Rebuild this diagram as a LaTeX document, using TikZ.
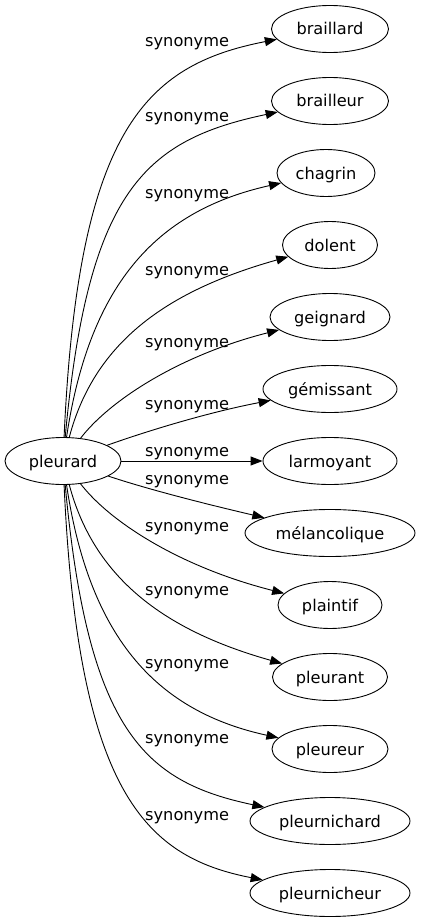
\documentclass[tikz,border=0pt]{standalone}
\usepackage{fontspec}
\setmainfont{DejaVu Sans}
\usetikzlibrary{shapes.geometric,arrows.meta}

\begin{document}
\begin{tikzpicture}[
        x=1pt, y=-1pt,
        word/.style = {draw, ellipse, line width=0.9pt, inner sep=0pt, minimum height=47pt, text height=15pt, text depth=3pt, font=\fontsize{16.2}{19}\selectfont},
        lbl/.style = {anchor=base west, inner sep=0pt, font=\fontsize{16.2}{19}\selectfont},
        arrow/.style = {-{Triangle[length=12pt,width=9pt]}, line width=0.9pt}
    ]
    \useasboundingbox (0,0) rectangle (421,923);

    % Headword on the left
    \node[word, minimum width=116pt] (pleurard) at (63,461) {pleurard};

    % Synonyms in one column
    \node[word, minimum width=117pt] (braillard) at (330,29) {braillard};
    \node[word, minimum width=117pt] (brailleur) at (330,101) {brailleur};
    \node[word, minimum width=98pt] (chagrin) at (326,173) {chagrin};
    \node[word, minimum width=95pt] (dolent) at (330,245) {dolent};
    \node[word, minimum width=120pt] (geignard) at (330,317) {geignard};
    \node[word, minimum width=134pt] (gemissant) at (330,389) {gémissant};
    \node[word, minimum width=134pt] (larmoyant) at (330,461) {larmoyant};
    \node[word, minimum width=170pt] (melancolique) at (330,533) {mélancolique};
    \node[word, minimum width=104pt] (plaintif) at (330,605) {plaintif};
    \node[word, minimum width=115pt] (pleurant) at (330,677) {pleurant};
    \node[word, minimum width=116pt] (pleureur) at (330,749) {pleureur};
    \node[word, minimum width=160pt] (pleurnichard) at (330,821) {pleurnichard};
    \node[word, minimum width=160pt] (pleurnicheur) at (330,893) {pleurnicheur};

    % Edges from the headword
    \draw[arrow] (pleurard) .. controls (78,130) and (145,65) .. (braillard);
    \draw[arrow] (pleurard) .. controls (88,190) and (145,140) .. (brailleur);
    \draw[arrow] (pleurard) .. controls (90,280) and (160,210) .. (chagrin);
    \draw[arrow] (pleurard) .. controls (95,340) and (170,290) .. (dolent);
    \draw[arrow] (pleurard) .. controls (110,400) and (180,355) .. (geignard);
    \draw[arrow] (pleurard) .. controls (150,430) and (210,412) .. (gemissant);
    \draw[arrow] (pleurard) -- (larmoyant);
    \draw[arrow] (pleurard) .. controls (150,490) and (210,505) .. (melancolique);
    \draw[arrow] (pleurard) .. controls (110,522) and (180,567) .. (plaintif);
    \draw[arrow] (pleurard) .. controls (95,582) and (170,632) .. (pleurant);
    \draw[arrow] (pleurard) .. controls (90,642) and (160,712) .. (pleureur);
    \draw[arrow] (pleurard) .. controls (88,732) and (145,782) .. (pleurnichard);
    \draw[arrow] (pleurard) .. controls (78,792) and (145,857) .. (pleurnicheur);

    % Edge labels
    \node[lbl] (lab1) at (145,46.7) {synonyme};
    \node[lbl] (lab2) at (145,121.7) {synonyme};
    \node[lbl] (lab3) at (145,198) {synonyme};
    \node[lbl] (lab4) at (145,275) {synonyme};
    \node[lbl] (lab5) at (145,347) {synonyme};
    \node[lbl] (lab6) at (145,409) {synonyme};
    \node[lbl] (lab7) at (145,456.7) {synonyme};
    \node[lbl] (lab8) at (145,484) {synonyme};
    \node[lbl] (lab9) at (145,531.7) {synonyme};
    \node[lbl] (lab10) at (145,595) {synonyme};
    \node[lbl] (lab11) at (145,668) {synonyme};
    \node[lbl] (lab12) at (145,743.3) {synonyme};
    \node[lbl] (lab13) at (145,820) {synonyme};

\end{tikzpicture}
\end{document}
